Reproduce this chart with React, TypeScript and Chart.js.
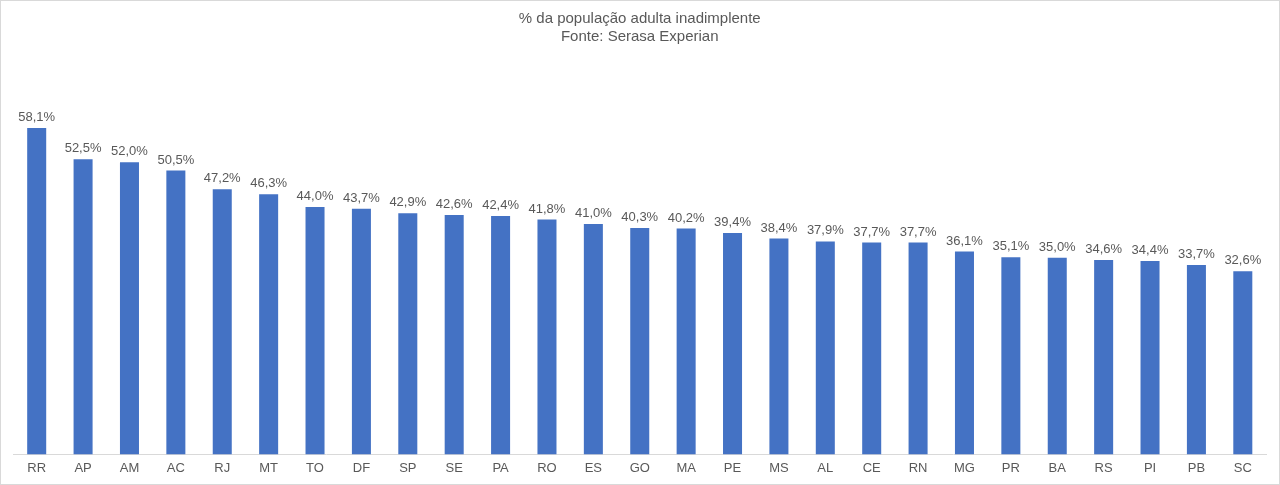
import React, { useEffect, useRef } from "react";
import { Chart, registerables } from "chart.js";

Chart.register(...registerables);

const states = [
  "RR", "AP", "AM", "AC", "RJ", "MT", "TO", "DF", "SP", "SE", "PA", "RO", "ES", "GO",
  "MA", "PE", "MS", "AL", "CE", "RN", "MG", "PR", "BA", "RS", "PI", "PB", "SC",
];

const defaultRate = [
  58.1, 52.5, 52.0, 50.5, 47.2, 46.3, 44.0, 43.7, 42.9, 42.6, 42.4, 41.8, 41.0, 40.3,
  40.2, 39.4, 38.4, 37.9, 37.7, 37.7, 36.1, 35.1, 35.0, 34.6, 34.4, 33.7, 32.6,
];

const titleLines = ["% da população adulta inadimplente", "Fonte: Serasa Experian"];

const FONT = "'Liberation Sans', Arial, sans-serif";
const TEXT = "#595959";

const fmt = (v: number) => v.toFixed(1).replace(".", ",") + "%";

// Value labels above each bar plus a thin frame around the canvas
const labelsPlugin = {
  id: "valueLabels",
  afterDatasetsDraw(chart: any) {
    const { ctx } = chart;
    const meta = chart.getDatasetMeta(0);
    const data = chart.data.datasets[0].data as number[];
    ctx.save();
    ctx.font = `13px ${FONT}`;
    ctx.fillStyle = TEXT;
    ctx.textAlign = "center";
    ctx.textBaseline = "bottom";
    meta.data.forEach((bar: any, i: number) => {
      ctx.fillText(fmt(data[i]), bar.x, bar.y - 4);
    });
    ctx.restore();
  },
  afterDraw(chart: any) {
    const { ctx, width, height } = chart;
    ctx.save();
    ctx.strokeStyle = "#d9d9d9";
    ctx.lineWidth = 1;
    ctx.strokeRect(0.5, 0.5, width - 1, height - 1);
    ctx.restore();
  },
};

export default function App() {
  const canvasRef = useRef<HTMLCanvasElement | null>(null);

  useEffect(() => {
    if (!canvasRef.current) return;
    const chart = new Chart(canvasRef.current, {
      type: "bar",
      data: {
        labels: states,
        datasets: [
          {
            data: defaultRate,
            backgroundColor: "#4472C4",
            categoryPercentage: 1,
            barPercentage: 0.41,
          },
        ],
      },
      options: {
        animation: false,
        responsive: false,
        maintainAspectRatio: false,
        layout: { padding: { left: 13.5, right: 14, top: 0, bottom: 3 } },
        plugins: {
          legend: { display: false },
          tooltip: { enabled: false },
          title: {
            display: true,
            text: titleLines,
            color: TEXT,
            font: { family: FONT, size: 15, weight: "normal", lineHeight: 1.2 },
            padding: { top: 10, bottom: 15 },
          },
        },
        scales: {
          x: {
            grid: { display: false, drawTicks: false },
            border: { display: true, color: "#d9d9d9", width: 1 },
            ticks: {
              color: TEXT,
              padding: 6,
              font: { family: FONT, size: 13 },
              maxRotation: 0,
              autoSkip: false,
            },
          },
          y: {
            display: false,
            min: 0,
            max: 70,
          },
        },
      },
      plugins: [labelsPlugin],
    });
    return () => chart.destroy();
  }, []);

  return (
    <div style={{ position: "fixed", left: 0, top: 0, width: 1280, height: 485, background: "#fff" }}>
      <canvas ref={canvasRef} width={1280} height={485} style={{ display: "block" }} />
    </div>
  );
}
